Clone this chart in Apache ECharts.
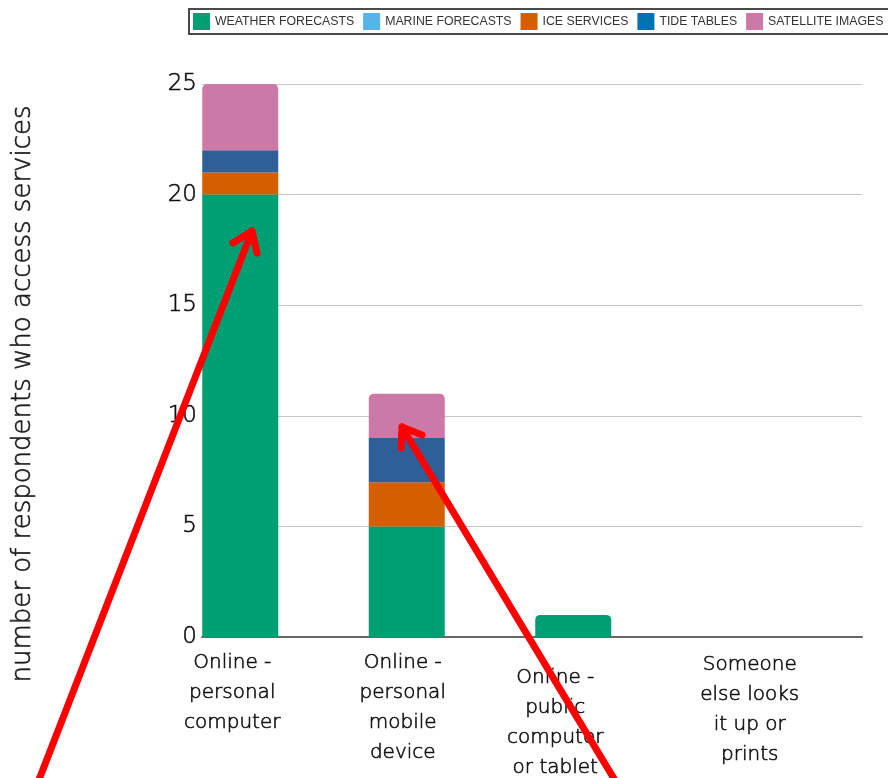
<!DOCTYPE html>
<html>
<head>
<meta charset="utf-8">
<script src="https://cdn.jsdelivr.net/npm/echarts@6/dist/echarts.min.js"></script>
<style>
  html, body { margin: 0; padding: 0; background: #fff; }
  #chart { width: 888px; height: 778px; }
</style>
</head>
<body>
<div id="chart"></div>
<script>
// Ways respondents access services, stacked by service type
const categories = [
  'Online -\npersonal\ncomputer',
  'Online -\npersonal\nmobile\ndevice',
  'Online -\npublic\ncomputer\nor tablet',
  'Someone\nelse looks\nit up or\nprints'
];
const seriesNames = ['WEATHER FORECASTS', 'MARINE FORECASTS', 'ICE SERVICES', 'TIDE TABLES', 'SATELLITE IMAGES'];
const weatherForecasts = [20, 5, 1, 0];
const marineForecasts = [0, 0, 0, 0];
const iceServices = [1, 2, 0, 0];
const tideTables = [1, 2, 0, 0];
const satelliteImages = [3, 2, 0, 0];
const yTicks = { min: 0, max: 25, interval: 5 };

const seriesValues = [weatherForecasts, marineForecasts, iceServices, tideTables, satelliteImages];
const barColors = ['#009E73', '#56B4E9', '#D55E00', '#2F5F98', '#CC79A7'];
const legendColors = ['#009E73', '#56B4E9', '#D55E00', '#0072B2', '#CC79A7'];

// index of the top-most non-empty segment per category (gets rounded corners)
const topIndex = categories.map((_, c) => {
  let idx = -1;
  seriesValues.forEach((vals, s) => { if (vals[c] > 0) idx = s; });
  return idx;
});

// per-label nudges: [top, right, bottom, left]
const labelPadding = [[0, 16, 0, 0], [0, 8, 0, 0], [15, 36, 0, 0], [2, 0, 0, 20]];

const font = 'DejaVu Sans';
// light face, slightly thickened with a hairline outline
const textInk = { fontFamily: font, fontWeight: 200, color: '#111', textBorderColor: '#111', textBorderWidth: 0.6 };

const chart = echarts.init(document.getElementById('chart'), null, { renderer: 'canvas' });

const option = {
  animation: false,
  backgroundColor: '#ffffff',
  legend: {
    left: 189,
    top: 9,
    width: 760,
    padding: [4, 12, 4, 4],
    itemWidth: 17,
    itemHeight: 17,
    itemGap: 9,
    borderColor: '#4a4a4a',
    borderWidth: 2,
    selectedMode: false,
    icon: 'rect',
    textStyle: { fontFamily: 'Liberation Sans', fontSize: 12.3, color: '#333' },
    data: seriesNames.map((n, i) => ({ name: n, itemStyle: { color: legendColors[i] } }))
  },
  grid: [
    { left: 202, right: 26, top: 84, bottom: 141, outerBoundsMode: 'none' },
    { left: 157, right: 65, top: 84, bottom: 141, outerBoundsMode: 'none' }
  ],
  xAxis: [
    {
      type: 'category', gridIndex: 0, data: categories,
      axisLine: { lineStyle: { color: '#666', width: 2 } },
      axisTick: { show: false }, axisLabel: { show: false }
    },
    {
      type: 'category', gridIndex: 1,
      data: categories.map((c, i) => ({ value: c, textStyle: { padding: labelPadding[i] } })),
      axisLine: { show: false }, axisTick: { show: false },
      axisLabel: Object.assign({
        margin: 11, interval: 0, fontSize: 20, lineHeight: 30,
        align: 'center', verticalAlign: 'top'
      }, textInk)
    }
  ],
  yAxis: [
    {
      type: 'value', gridIndex: 0, min: yTicks.min, max: yTicks.max, interval: yTicks.interval,
      axisLine: { show: false }, axisTick: { show: false },
      axisLabel: Object.assign({ margin: 5, fontSize: 23 }, textInk),
      splitLine: { lineStyle: { color: '#c6c6c6', width: 1 } }
    },
    {
      type: 'value', gridIndex: 1, min: yTicks.min, max: yTicks.max, interval: yTicks.interval,
      show: false, splitLine: { show: false }
    }
  ],
  series: seriesNames.map((name, s) => ({
    name,
    type: 'bar',
    stack: 'total',
    xAxisIndex: 1,
    yAxisIndex: 1,
    barWidth: 76,
    itemStyle: { color: barColors[s] },
    data: seriesValues[s].map((v, c) => ({
      value: v,
      itemStyle: topIndex[c] === s ? { borderRadius: [5, 5, 0, 0] } : {}
    }))
  })),
  graphic: [
    {
      type: 'text', x: 23, y: 394, rotation: Math.PI / 2,
      style: {
        text: 'number of respondents who access services',
        font: '200 26px "DejaVu Sans"', fill: '#1a1a1a',
        stroke: '#1a1a1a', lineWidth: 0.6,
        align: 'center', verticalAlign: 'middle'
      }
    },
    // annotation arrows
    {
      type: 'polyline', z: 100,
      shape: { points: [[35, 790], [252, 231]] },
      style: { stroke: '#ff0000', lineWidth: 7, lineCap: 'round', lineJoin: 'round', fill: null }
    },
    {
      type: 'polyline', z: 100,
      shape: { points: [[233, 243], [252, 231], [257, 253]] },
      style: { stroke: '#ff0000', lineWidth: 7, lineCap: 'round', lineJoin: 'round', fill: null }
    },
    {
      type: 'polyline', z: 100,
      shape: { points: [[622, 792], [402, 427]] },
      style: { stroke: '#ff0000', lineWidth: 7, lineCap: 'round', lineJoin: 'round', fill: null }
    },
    {
      type: 'polyline', z: 100,
      shape: { points: [[401, 448], [402, 427], [422, 435]] },
      style: { stroke: '#ff0000', lineWidth: 7, lineCap: 'round', lineJoin: 'round', fill: null }
    }
  ]
};

chart.setOption(option);
</script>
</body>
</html>
